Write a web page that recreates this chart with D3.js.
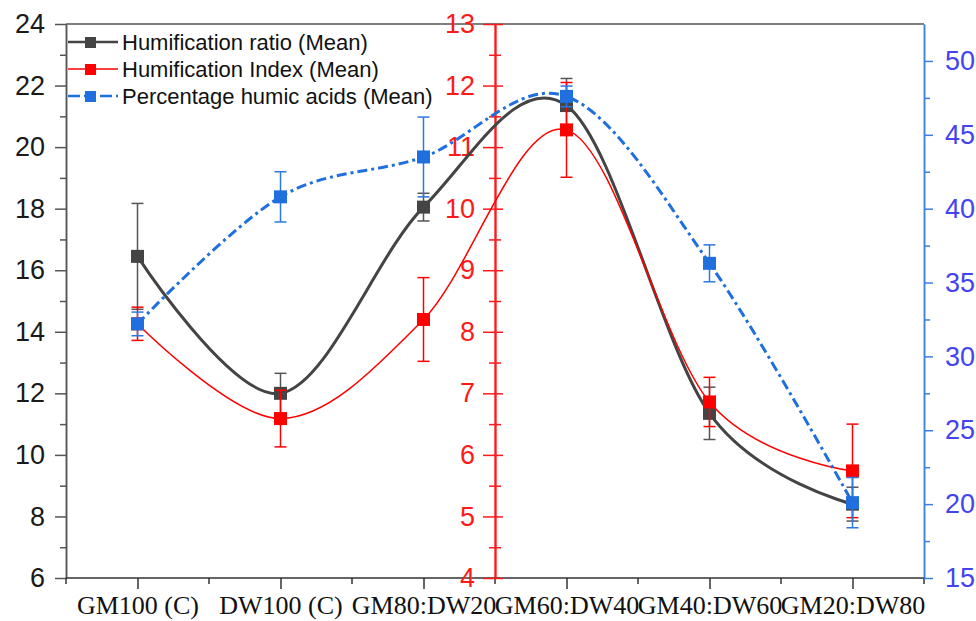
<!DOCTYPE html>
<html lang="en">
<head>
    <meta charset="UTF-8">
    <title>Humification</title>
    <script src="https://d3js.org/d3.v7.min.js"></script>
    <style>
        body { margin: 0; background: #fff; }
    </style>
</head>
<body>
    <div id='main'></div>
    <script>
// data
var categories = ['GM100 (C)', 'DW100 (C)', 'GM80:DW20', 'GM60:DW40', 'GM40:DW60', 'GM20:DW80']
var ratioMean = [16.45, 12.0, 18.05, 21.35, 11.35, 8.4]
var ratioErr = [1.72, 0.65, 0.45, 0.88, 0.85, 0.55]
var indexMean = [8.13, 6.59, 8.2, 11.28, 6.86, 5.74]
var indexErr = [0.27, 0.46, 0.68, 0.77, 0.4, 0.76]
var humicMean = [32.2, 40.8, 43.5, 47.6, 36.3, 20.1]
var humicErr = [0.8, 1.7, 2.7, 0.7, 1.25, 1.7]
var seriesNames = ['Humification ratio (Mean)', 'Humification Index (Mean)', 'Percentage humic acids (Mean)']

var leftTicks = [6, 8, 10, 12, 14, 16, 18, 20, 22, 24]
var redTicks = [4, 5, 6, 7, 8, 9, 10, 11, 12, 13]
var blueTicks = [15, 20, 25, 30, 35, 40, 45, 50]

// size (plotTop, not top: window.top is read only)
var width = 976
var height = 621
var plotLeft = 66, plotRight = 924, plotTop = 24, plotBottom = 578

var svg = d3.select('#main').append('svg')
    .attr('width', width)
    .attr('height', height)

var x = d3.scalePoint().domain(categories).range([plotLeft, plotRight]).padding(0.5)
var yLeft = d3.scaleLinear().domain([6, 24]).range([plotBottom, plotTop])
var yRed = d3.scaleLinear().domain([4, 13]).range([plotBottom, plotTop])
var yBlue = d3.scaleLinear().domain([15, 52.5]).range([plotBottom, plotTop])

var sans = 'Liberation Sans, Arial, sans-serif'

function minors(major) {
    var m = []
    for (var i = 0; i < major.length - 1; i++) m.push((major[i] + major[i + 1]) / 2)
    return m
}

function styleAxis(g, color, size) {
    g.select('.domain').attr('stroke', color).attr('stroke-width', 1.5)
    g.selectAll('.tick line').attr('stroke', color).attr('stroke-width', 1.5)
    g.selectAll('.tick text').attr('fill', color).style('font-family', sans).style('font-size', size + 'px')
}

// top frame
svg.append('line')
    .attr('x1', plotLeft).attr('x2', plotRight).attr('y1', plotTop).attr('y2', plotTop)
    .attr('stroke', '#555').attr('stroke-width', 1.5)

// left axis
var gl = svg.append('g').attr('transform', `translate(${plotLeft},0)`)
gl.append('g').call(d3.axisLeft(yLeft).tickValues(minors(leftTicks)).tickSize(6).tickSizeOuter(0).tickFormat(''))
    .call(styleAxis, '#555', 27)
gl.append('g').call(d3.axisLeft(yLeft).tickValues(leftTicks).tickSize(11).tickSizeOuter(0).tickPadding(10))
    .call(styleAxis, '#555', 27)
gl.selectAll('.tick text').attr('fill', '#1a1a1a')

// bottom axis, minor ticks on category borders
var gb = svg.append('g').attr('transform', `translate(0,${plotBottom})`)
gb.append('line').attr('x1', plotLeft).attr('x2', plotRight).attr('stroke', '#333').attr('stroke-width', 1.5)
gb.selectAll('line.minor')
    .data(categories.concat(['end']))
    .enter()
    .append('line')
    .attr('class', 'minor')
    .attr('x1', (d, i) => i < categories.length ? x(d) - x.step() / 2 : x(categories[i - 1]) + x.step() / 2)
    .attr('x2', (d, i) => i < categories.length ? x(d) - x.step() / 2 : x(categories[i - 1]) + x.step() / 2)
    .attr('y2', 6)
    .attr('stroke', '#333').attr('stroke-width', 1.5)
gb.append('g').call(d3.axisBottom(x).tickSize(11).tickSizeOuter(0).tickPadding(7))
    .call(styleAxis, '#333', 26)
gb.select('.domain').remove()
gb.selectAll('.tick text')
    .attr('fill', '#111')
    .style('font-family', 'Liberation Serif, Times New Roman, serif')

// right blue axis
var gr = svg.append('g').attr('transform', `translate(${plotRight},0)`)
gr.append('g').call(d3.axisRight(yBlue).tickValues(minors(blueTicks)).tickSize(6).tickSizeOuter(0).tickFormat(''))
    .call(styleAxis, '#3a82e2', 27)
gr.append('g').call(d3.axisRight(yBlue).tickValues(blueTicks).tickSize(9).tickSizeOuter(0).tickPadding(12))
    .call(styleAxis, '#3a82e2', 27)
gr.selectAll('.tick text').attr('fill', '#4444ee')

// middle red axis, ticks cross the line
var redX = x(categories[2]) + x.step() / 2
var gm = svg.append('g').attr('transform', `translate(${redX},0)`)
gm.append('g').call(d3.axisLeft(yRed).tickValues(minors(redTicks)).tickSize(6).tickSizeOuter(0).tickFormat(''))
    .call(styleAxis, '#ff1a1a', 27)
gm.append('g').call(d3.axisRight(yRed).tickValues(minors(redTicks)).tickSize(6).tickSizeOuter(0).tickFormat(''))
    .call(styleAxis, '#ff1a1a', 27)
gm.append('g').call(d3.axisRight(yRed).tickValues(redTicks).tickSize(8).tickSizeOuter(0).tickFormat(''))
    .call(styleAxis, '#ff1a1a', 27)
gm.append('g').call(d3.axisLeft(yRed).tickValues(redTicks).tickSize(12).tickSizeOuter(0).tickPadding(8))
    .call(styleAxis, '#ff1a1a', 27)
gm.selectAll('.tick text').attr('fill', '#ff1a1a')

// series
var series = [
    {mean: ratioMean, err: ratioErr, y: yLeft, color: '#444', errColor: '#555', width: 3, dash: null},
    {mean: indexMean, err: indexErr, y: yRed, color: '#ff0000', errColor: '#ff0000', width: 1.5, dash: null},
    {mean: humicMean, err: humicErr, y: yBlue, color: '#1f6fde', errColor: '#2a78e0', width: 3, dash: '10,4,3,4'}
]

var curve = d3.line()
    .curve(d3.curveCardinal.tension(0))

var ms = 13
var cap = 6

series.forEach(function (s) {
    var pts = categories.map((c, i) => [x(c), s.y(s.mean[i])])
    svg.append('path')
        .attr('d', curve(pts))
        .attr('fill', 'none')
        .attr('stroke', s.color)
        .attr('stroke-width', s.width)
        .attr('stroke-dasharray', s.dash)

    var g = svg.append('g')
    var eb = g.selectAll('g').data(categories).enter().append('g')
    eb.append('line')
        .attr('x1', d => x(d)).attr('x2', d => x(d))
        .attr('y1', (d, i) => s.y(s.mean[i] - s.err[i]))
        .attr('y2', (d, i) => s.y(s.mean[i] + s.err[i]))
        .attr('stroke', s.errColor).attr('stroke-width', 1.5)
    eb.append('line')
        .attr('x1', d => x(d) - cap).attr('x2', d => x(d) + cap)
        .attr('y1', (d, i) => s.y(s.mean[i] + s.err[i]))
        .attr('y2', (d, i) => s.y(s.mean[i] + s.err[i]))
        .attr('stroke', s.errColor).attr('stroke-width', 1.5)
    eb.append('line')
        .attr('x1', d => x(d) - cap).attr('x2', d => x(d) + cap)
        .attr('y1', (d, i) => s.y(s.mean[i] - s.err[i]))
        .attr('y2', (d, i) => s.y(s.mean[i] - s.err[i]))
        .attr('stroke', s.errColor).attr('stroke-width', 1.5)
    eb.append('rect')
        .attr('x', d => x(d) - ms / 2)
        .attr('y', (d, i) => s.y(s.mean[i]) - ms / 2)
        .attr('width', ms).attr('height', ms)
        .attr('fill', s.color)
})

// legend
var lg = svg.append('g').attr('transform', 'translate(68,0)')
var rows = lg.selectAll('g').data(series).enter().append('g')
    .attr('transform', (d, i) => `translate(0,${42 + i * 27})`)
rows.append('line')
    .attr('x1', 0).attr('x2', 50)
    .attr('stroke', d => d.color)
    .attr('stroke-width', d => d.width == 3 ? 2.5 : 1.5)
    .attr('stroke-dasharray', d => d.dash ? '12,4' : null)
rows.append('rect')
    .attr('x', 17).attr('y', -5).attr('width', 11).attr('height', 11)
    .attr('fill', d => d.color)
rows.append('text')
    .attr('x', 54).attr('dy', '0.35em')
    .text((d, i) => seriesNames[i])
    .style('font-family', sans).style('font-size', '22px')
    .attr('fill', '#111')
</script>
</body>
</html>
